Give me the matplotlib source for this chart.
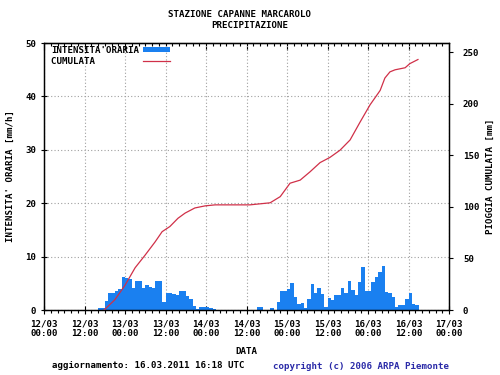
import numpy as np
import matplotlib
matplotlib.use('Agg')
import matplotlib.pyplot as plt
from matplotlib.patches import Patch
from matplotlib.lines import Line2D

# ---- data -------------------------------------------------------------
# hourly intensity [mm/h], hours counted from 12/03 00:00
rain_start_hour = 15
rain_mm_h = [
    0.0, 0.4, 0.4, 1.7, 3.2, 3.2, 3.6, 4.0, 6.2, 6.0,   # 15-24
    5.8, 4.2, 5.4, 5.4, 4.2, 4.6, 4.4, 4.2, 5.4, 5.4,   # 25-34
    1.5, 3.2, 3.2, 3.0, 2.9, 3.6, 3.6, 2.7, 2.0, 0.7,   # 35-44
    0.2, 0.5, 0.5, 0.5, 0.3, 0.2, 0.0, 0.0, 0.0, 0.0,   # 45-54
    0.0, 0.0, 0.0, 0.0, 0.0, 0.0, 0.0, 0.0, 0.6, 0.6,   # 55-64
    0.0, 0.0, 0.3, 0.0, 1.5, 3.6, 3.6, 3.9, 5.1, 2.5,   # 65-74
    1.2, 1.4, 0.3, 2.0, 4.9, 3.2, 4.2, 3.0, 0.6, 2.2,   # 75-84
    1.9, 2.8, 2.8, 4.2, 3.2, 5.5, 3.7, 2.8, 5.3, 8.1,   # 85-94
    3.6, 3.6, 5.3, 6.2, 7.2, 8.2, 3.4, 3.1, 2.5, 0.6,   # 95-104
    0.9, 0.9, 2.0, 3.1, 1.1, 1.0,                       # 105-110
]

# cumulated rain [mm]
cum_hours = [17.8, 21.0, 24.0, 27.0, 29.9, 32.9, 35.0, 37.3, 39.7, 41.8,
             44.7, 47.7, 50.7, 61.0, 67.0, 70.0, 72.9, 75.9, 78.8, 81.8,
             84.7, 87.7, 90.7, 93.6, 96.6, 99.6, 101.0, 102.5, 104.0, 107.0,
             108.4, 110.8]
cum_mm = [0, 10, 24, 41, 53, 66, 76, 81, 89, 94,
          99, 101, 102, 102, 104, 110, 123, 126, 134, 143,
          148, 155, 165, 182, 199, 213, 225, 231, 233, 235,
          239, 243]

tick_hours = [0, 12, 24, 36, 48, 60, 72, 84, 96, 108, 120]
tick_labels = ['12/03\n00:00', '12/03\n12:00', '13/03\n00:00', '13/03\n12:00',
               '14/03\n00:00', '14/03\n12:00', '15/03\n00:00', '15/03\n12:00',
               '16/03\n00:00', '16/03\n12:00', '17/03\n00:00']
left_ticks = [0, 10, 20, 30, 40, 50]
right_ticks = [0, 50, 100, 150, 200, 250]

# ---- style ------------------------------------------------------------
BLUE = '#1a80f0'
RED = '#d03048'
FONT = dict(family='DejaVu Sans Mono', weight='bold', size=6.6)

fig = plt.figure(figsize=(5, 3.75), dpi=100)
ax = fig.add_axes([0.088, 0.1733, 0.81, 0.712])

hours = np.arange(rain_start_hour, rain_start_hour + len(rain_mm_h))
ax.bar(hours, rain_mm_h, width=1.0, align='edge', color=BLUE,
       linewidth=0, zorder=2)
ax.set_xlim(0, 120)
ax.set_ylim(0, 50)

ax.set_xticks(tick_hours)
ax.set_xticklabels(tick_labels, **FONT)
ax.set_xticks(np.arange(0, 121, 2), minor=True)
ax.set_yticks(left_ticks)
ax.set_yticklabels([str(v) for v in left_ticks], **FONT)
ax.tick_params(axis='x', which='major', direction='inout', length=6, width=0.8, pad=3.5)
ax.tick_params(axis='x', which='minor', direction='out', length=2.5, width=0.8)
ax.tick_params(axis='y', which='major', direction='inout', length=5, width=0.8, pad=3)
ax.grid(True, which='major', color='#a0a0a0', linestyle=(0, (1, 2)), linewidth=0.8, zorder=0)
ax.set_axisbelow(True)

top = ax.secondary_xaxis('top')
top.set_xticks(tick_hours)
top.set_xticklabels([])
top.set_xticks(np.arange(0, 121, 2), minor=True)
top.tick_params(which='major', direction='in', length=5, width=0.8)
top.tick_params(which='minor', direction='in', length=2.5, width=0.8)

ax2 = ax.twinx()
ax2.plot(cum_hours, cum_mm, color=RED, linewidth=0.9, zorder=3)
ax2.set_ylim(0, 259)
ax2.set_yticks(right_ticks)
ax2.set_yticklabels([str(v) for v in right_ticks], **FONT)
ax2.tick_params(axis='y', direction='out', length=3, width=0.8, pad=7)

for a in (ax, ax2):
    for s in a.spines.values():
        s.set_linewidth(0.9)

ax.set_xlabel('DATA', labelpad=6, **FONT)
fig.text(0.02, 0.53, "INTENSITA' ORARIA [mm/h]", rotation=90, ha='center', va='center', **FONT)
fig.text(0.98, 0.53, "PIOGGIA CUMULATA [mm]", rotation=90, ha='center', va='center', **FONT)

fig.text(0.478, 0.962, 'STAZIONE CAPANNE MARCAROLO', ha='center', va='center', **FONT)
fig.text(0.499, 0.933, 'PRECIPITAZIONE', ha='center', va='center', **FONT)

fig.text(0.104, 0.013, 'aggiornamento: 16.03.2011 16:18 UTC', ha='left', va='bottom', **FONT)
fig.text(0.546, 0.010, 'copyright (c) 2006 ARPA Piemonte', ha='left', va='bottom',
         color='#2a2aa8', **FONT)

handles = [Patch(facecolor=BLUE, edgecolor='none'), Line2D([], [], color=RED, linewidth=0.9)]
labels = ["INTENSITA'ORARIA", "CUMULATA        "]
leg = ax2.legend(handles, labels, loc='upper left', bbox_to_anchor=(0.018, 0.99),
                 frameon=False, markerfirst=False, handlelength=2.9, handleheight=0.55,
                 handletextpad=0.4, labelspacing=0.25, borderpad=0, borderaxespad=0,
                 prop=FONT)

fig.savefig('out.png', dpi=100)
